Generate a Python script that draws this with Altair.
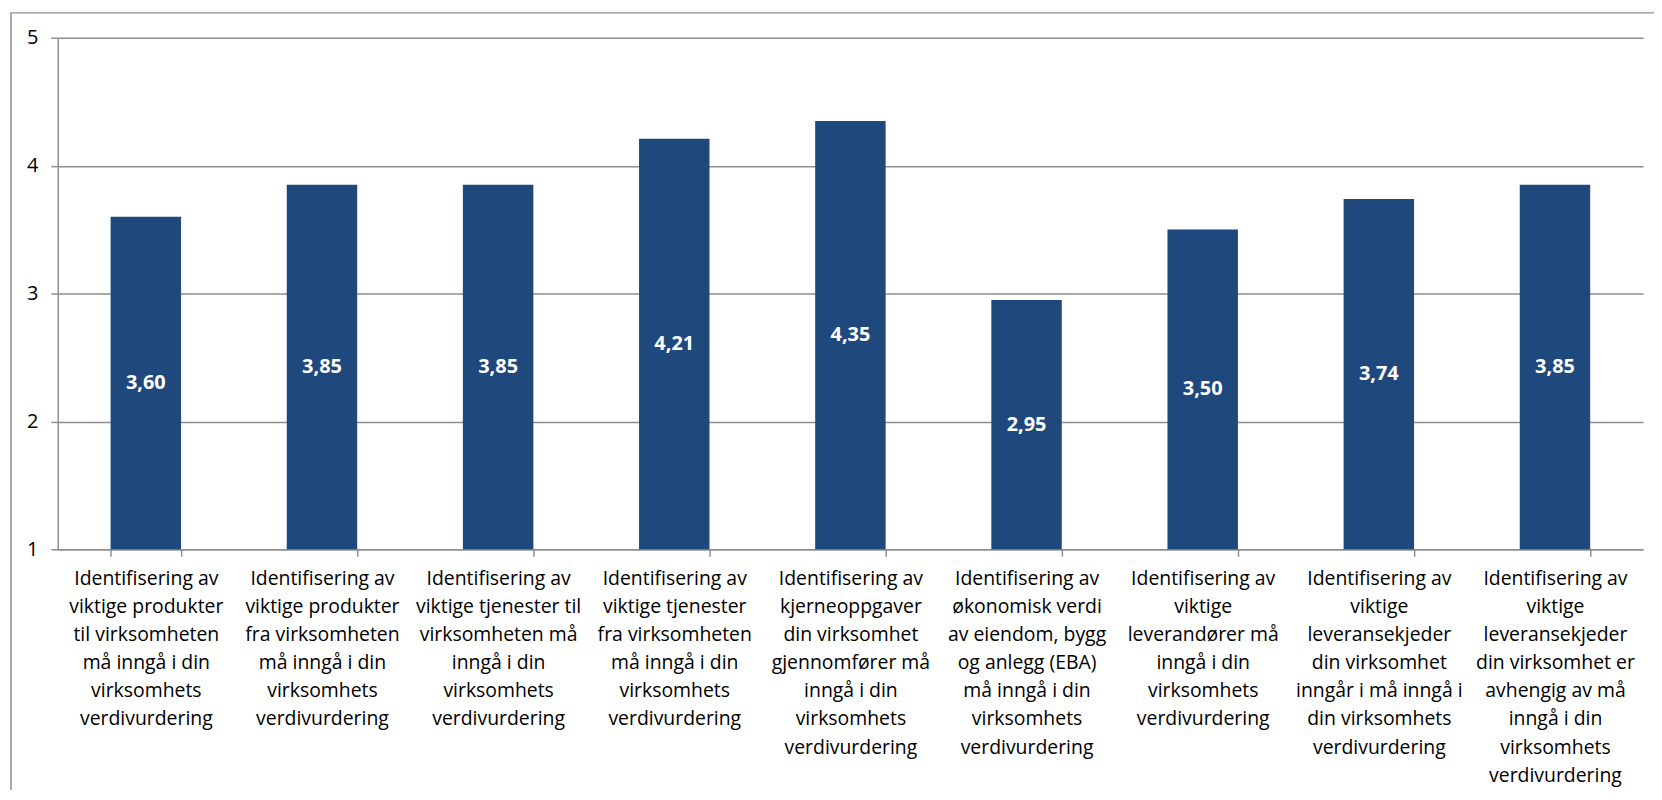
import altair as alt
import pandas as pd

label_lines = [
    ["Identifisering av", "viktige produkter", "til virksomheten", "må inngå i din", "virksomhets", "verdivurdering"],
    ["Identifisering av", "viktige produkter", "fra virksomheten", "må inngå i din", "virksomhets", "verdivurdering"],
    ["Identifisering av", "viktige tjenester til", "virksomheten må", "inngå i din", "virksomhets", "verdivurdering"],
    ["Identifisering av", "viktige tjenester", "fra virksomheten", "må inngå i din", "virksomhets", "verdivurdering"],
    ["Identifisering av", "kjerneoppgaver", "din virksomhet", "gjennomfører må", "inngå i din", "virksomhets", "verdivurdering"],
    ["Identifisering av", "økonomisk verdi", "av eiendom, bygg", "og anlegg (EBA)", "må inngå i din", "virksomhets", "verdivurdering"],
    ["Identifisering av", "viktige", "leverandører må", "inngå i din", "virksomhets", "verdivurdering"],
    ["Identifisering av", "viktige", "leveransekjeder", "din virksomhet", "inngår i må inngå i", "din virksomhets", "verdivurdering"],
    ["Identifisering av", "viktige", "leveransekjeder", "din virksomhet er", "avhengig av må", "inngå i din", "virksomhets", "verdivurdering"],
]
values = [3.60, 3.85, 3.85, 4.21, 4.35, 2.95, 3.50, 3.74, 3.85]
y_ticks = [1, 2, 3, 4, 5]

categories = ["|".join(l) for l in label_lines]
df = pd.DataFrame({"cat": categories, "value": values})

GRID = "#8e8e8e"
BAR = "#1f497d"

x_enc = alt.X(
    "cat:N",
    sort=None,
    title=None,
    scale=alt.Scale(paddingInner=0.6, paddingOuter=0.3),
    axis=alt.Axis(
        labelExpr="split(datum.label, '|')",
        labelAngle=0,
        labelFontSize=19.5,
        labelLineHeight=28.3,
        labelColor="#000000",
        labelBaseline="top",
        labelPadding=13,
        labelLimit=0,
        labelOverlap=False,
        labelBound=False,
        tickBand="extent",
        tickSize=7,
        tickColor=GRID,
        tickWidth=1.5,
        domainColor=GRID,
        domainWidth=1.5,
        grid=False,
    ),
)

base = alt.Chart(df)

bars = base.mark_bar(color=BAR).encode(
    x=x_enc,
    y=alt.Y(
        "value:Q",
        title=None,
        scale=alt.Scale(domain=[1, 5], zero=False, nice=False),
        axis=alt.Axis(
            values=y_ticks,
            format="d",
            labelFontSize=20,
            labelColor="#000000",
            labelPadding=13,
            tickSize=7,
            tickColor=GRID,
            tickWidth=1.5,
            domainColor=GRID,
            domainWidth=1.5,
            grid=True,
            gridColor=GRID,
            gridWidth=1.5,
        ),
    ),
    y2=alt.datum(1),
)

labels = base.transform_calculate(
    mid="(datum.value + 1) / 2",
    txt="replace(format(datum.value, '.2f'), '.', ',')",
).mark_text(
    color="white", fontWeight="bold", fontSize=20, baseline="middle", align="center"
).encode(
    x=alt.X("cat:N", sort=None),
    y=alt.Y("mid:Q"),
    text="txt:N",
)

frame = alt.Chart(alt.Data(values=[{"k": 1}])).mark_rect(
    fill=None, stroke=GRID, strokeWidth=1.5
).encode(
    x=alt.value(-47), x2=alt.value(1650), y=alt.value(-25), y2=alt.value(900)
)

chart = alt.layer(frame, bars, labels).properties(
    width=1593,
    height=514,
    autosize=alt.AutoSizeParams(type="none"),
    padding={"left": 50, "top": 28, "right": 11, "bottom": 240},
).configure(
    font="Open Sans",
).configure_view(stroke=None)

chart.save("out.html", embed_options={"renderer": "svg", "actions": False})
